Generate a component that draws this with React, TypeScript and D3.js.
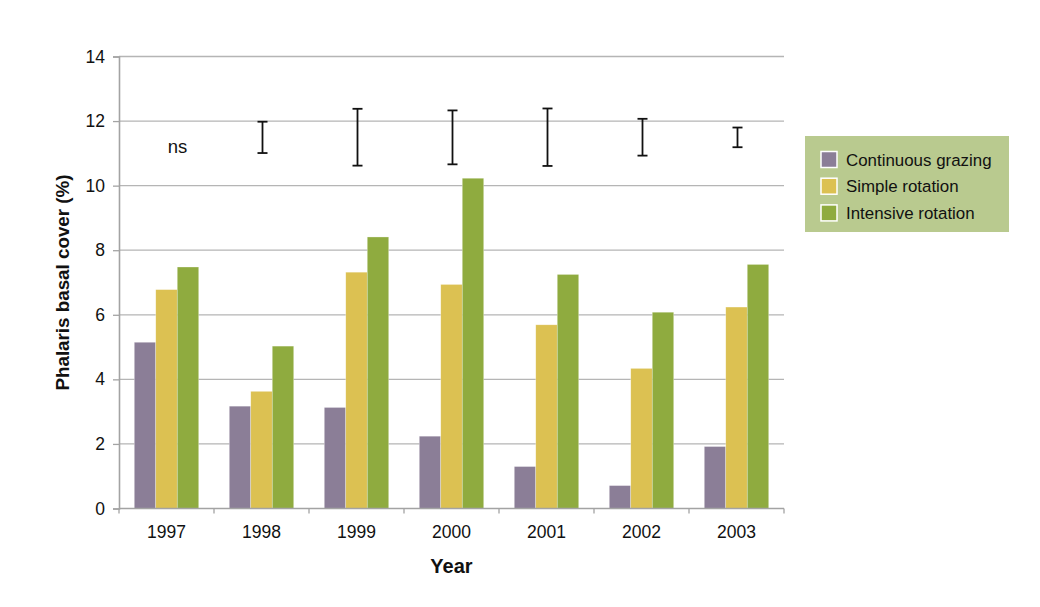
import { useEffect, useRef } from 'react';
import * as d3 from 'd3';

const years = ['1997', '1998', '1999', '2000', '2001', '2002', '2003'];
const seriesNames = ['Continuous grazing', 'Simple rotation', 'Intensive rotation'];
const continuous = [5.15, 3.17, 3.13, 2.24, 1.3, 0.71, 1.92];
const simple = [6.78, 3.63, 7.32, 6.94, 5.69, 4.34, 6.24];
const intensive = [7.48, 5.03, 8.41, 10.23, 7.25, 6.08, 7.56];
// LSD bars, null = ns
const errLow = [null, 11.01, 10.62, 10.66, 10.61, 10.93, 11.19];
const errHigh = [null, 11.98, 12.38, 12.33, 12.39, 12.07, 11.8];
const yTicks = [0, 2, 4, 6, 8, 10, 12, 14];

const colors = ['#8b7e97', '#dcc152', '#8fab3f'];
const gridColor = '#b5b5b5';
const axisColor = '#a3a3a3';
const font = '"Liberation Sans", Arial, Helvetica, sans-serif';

const width = 1040;
const height = 607;
const margin = { top: 56.5, left: 119, right: 256, bottom: 98.5 };

export default function App() {
  const ref = useRef<SVGSVGElement>(null);

  useEffect(() => {
    const svg = d3.select(ref.current!);
    svg.selectAll('*').remove();
    svg.attr('font-family', font);

    const x0 = d3
      .scaleBand()
      .domain(years)
      .range([margin.left, width - margin.right])
      .paddingInner(0)
      .paddingOuter(0);
    const x1 = d3
      .scaleBand()
      .domain(seriesNames)
      .range([0, x0.bandwidth()])
      .paddingInner(0)
      .paddingOuter(0.71);
    const y = d3
      .scaleLinear()
      .domain([0, 14])
      .range([height - margin.bottom, margin.top]);

    // grid lines
    svg
      .append('g')
      .selectAll('line')
      .data(yTicks.filter((d) => d > 0))
      .join('line')
      .attr('x1', margin.left)
      .attr('x2', width - margin.right)
      .attr('y1', (d) => y(d))
      .attr('y2', (d) => y(d))
      .attr('stroke', gridColor)
      .attr('stroke-width', 1.3);

    // bars
    const series = [continuous, simple, intensive];
    const rows = years.map((yr, i) => ({
      year: yr,
      values: series.map((s, j) => ({ name: seriesNames[j], value: s[i], color: colors[j] })),
    }));
    svg
      .append('g')
      .selectAll('g')
      .data(rows)
      .join('g')
      .attr('transform', (d) => `translate(${x0(d.year)},0)`)
      .selectAll('rect')
      .data((d) => d.values)
      .join('rect')
      .attr('x', (d) => x1(d.name)!)
      .attr('width', x1.bandwidth())
      .attr('y', (d) => y(d.value))
      .attr('height', (d) => y(0) - y(d.value))
      .attr('fill', (d) => d.color)
      .attr('stroke', '#ffffff')
      .attr('stroke-opacity', 0.5)
      .attr('stroke-width', 0.6);

    // y axis
    const yAxis = svg
      .append('g')
      .attr('transform', `translate(${margin.left},0)`)
      .call(
        d3
          .axisLeft(y)
          .tickValues(yTicks)
          .tickSize(6)
          .tickPadding(8)
          .tickFormat(d3.format('d'))
      );
    yAxis.select('.domain').attr('stroke', axisColor).attr('stroke-width', 1.6);
    yAxis.selectAll('line').attr('stroke', axisColor).attr('stroke-width', 1.3);
    yAxis.selectAll('text').attr('font-size', 17.5).attr('fill', '#111').attr('font-family', font);

    // x axis: baseline, boundary ticks, labels
    const base = y(0);
    svg
      .append('line')
      .attr('x1', margin.left)
      .attr('x2', width - margin.right)
      .attr('y1', base)
      .attr('y2', base)
      .attr('stroke', axisColor)
      .attr('stroke-width', 1.6);
    const bounds = years.map((d) => x0(d)!).concat([x0.range()[1]]);
    svg
      .append('g')
      .selectAll('line')
      .data(bounds)
      .join('line')
      .attr('x1', (d) => d)
      .attr('x2', (d) => d)
      .attr('y1', base)
      .attr('y2', base + 5)
      .attr('stroke', axisColor)
      .attr('stroke-width', 1.3);
    svg
      .append('g')
      .selectAll('text')
      .data(years)
      .join('text')
      .attr('x', (d) => x0(d)! + x0.bandwidth() / 2)
      .attr('y', base + 29)
      .attr('text-anchor', 'middle')
      .attr('font-size', 17.5)
      .attr('fill', '#111')
      .text((d) => d);

    // error bars
    const errs = years
      .map((yr, i) => ({ year: yr, lo: errLow[i], hi: errHigh[i] }))
      .filter((d) => d.lo !== null && d.hi !== null);
    const eg = svg
      .append('g')
      .selectAll('g')
      .data(errs)
      .join('g')
      .attr('transform', (d) => `translate(${x0(d.year)! + x0.bandwidth() / 2 + 1},0)`)
      .attr('stroke', '#111')
      .attr('stroke-width', 1.8);
    eg.append('line')
      .attr('y1', (d) => y(d.lo!))
      .attr('y2', (d) => y(d.hi!));
    eg.append('line')
      .attr('x1', -5)
      .attr('x2', 5)
      .attr('y1', (d) => y(d.hi!))
      .attr('y2', (d) => y(d.hi!));
    eg.append('line')
      .attr('x1', -5)
      .attr('x2', 5)
      .attr('y1', (d) => y(d.lo!))
      .attr('y2', (d) => y(d.lo!));

    // ns label
    years.forEach((yr, i) => {
      if (errLow[i] === null) {
        svg
          .append('text')
          .attr('x', x0(yr)! + x0.bandwidth() / 2 + 11)
          .attr('y', y(11.0) - 0.5)
          .attr('text-anchor', 'middle')
          .attr('font-size', 18.5)
          .attr('fill', '#111')
          .text('ns');
      }
    });

    // axis titles
    svg
      .append('text')
      .attr('transform', `translate(69,${(y(0) + y(14)) / 2}) rotate(-90)`)
      .attr('text-anchor', 'middle')
      .attr('font-size', 18.8)
      .attr('font-weight', 'bold')
      .attr('fill', '#111')
      .text('Phalaris basal cover (%)');
    svg
      .append('text')
      .attr('x', (x0.range()[0] + x0.range()[1]) / 2)
      .attr('y', 573)
      .attr('text-anchor', 'middle')
      .attr('font-size', 20)
      .attr('font-weight', 'bold')
      .attr('fill', '#111')
      .text('Year');

    // legend
    const lg = svg.append('g').attr('transform', 'translate(805,136)');
    lg.append('rect').attr('width', 204).attr('height', 96).attr('fill', '#b9ca8f');
    const item = lg
      .selectAll('g')
      .data(seriesNames)
      .join('g')
      .attr('transform', (_, i) => `translate(0,${23.5 + i * 26.7})`);
    item
      .append('rect')
      .attr('x', 16)
      .attr('y', -8)
      .attr('width', 16)
      .attr('height', 16)
      .attr('fill', (_, i) => colors[i])
      .attr('stroke', '#ffffff')
      .attr('stroke-width', 1.5);
    item
      .append('text')
      .attr('x', 41)
      .attr('y', 6)
      .attr('font-size', 16.9)
      .attr('fill', '#111')
      .text((d) => d);
  }, []);

  return (
    <svg
      ref={ref}
      width={width}
      height={height}
      style={{ position: 'absolute', left: 0, top: 0, background: '#fff' }}
    />
  );
}
